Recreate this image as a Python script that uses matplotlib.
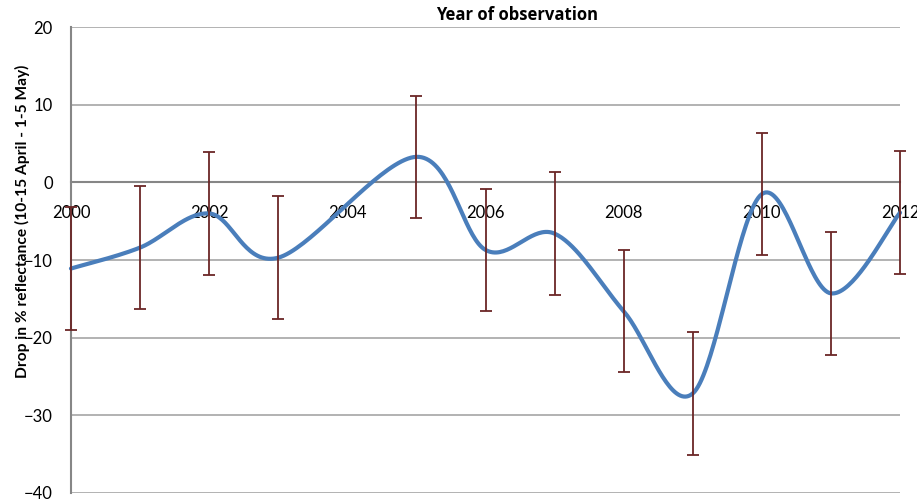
import numpy as np
import matplotlib
matplotlib.use("Agg")
import matplotlib.pyplot as plt

# yearly drop in reflectance (no observation for 2004)
years = [2000, 2001, 2002, 2003, 2005, 2006, 2007, 2008, 2009, 2010, 2011, 2012]
drop = [-11.1, -8.4, -4.0, -9.7, 3.3, -8.7, -6.6, -16.6, -27.2, -1.5, -14.3, -3.9]
err = [7.9, 7.9, 7.9, 7.9, 7.9, 7.9, 7.9, 7.9, 7.9, 7.9, 7.9, 7.9]

xticks = [2000, 2002, 2004, 2006, 2008, 2010, 2012]
yticks = [-40, -30, -20, -10, 0, 10, 20]


def smooth(xs, ys, n=40, t=1/6):
    # spreadsheet-style smoothed line: cubic bezier through each point pair
    x = np.asarray(xs, float)
    y = np.asarray(ys, float)
    px, py = [], []
    for i in range(len(x) - 1):
        a = max(i - 1, 0)
        b = min(i + 2, len(x) - 1)
        c1x = x[i] + (x[i + 1] - x[a]) * t
        c1y = y[i] + (y[i + 1] - y[a]) * t
        c2x = x[i + 1] - (x[b] - x[i]) * t
        c2y = y[i + 1] - (y[b] - y[i]) * t
        s = np.linspace(0, 1, n)
        px.append((1-s)**3*x[i] + 3*(1-s)**2*s*c1x + 3*(1-s)*s**2*c2x + s**3*x[i+1])
        py.append((1-s)**3*y[i] + 3*(1-s)**2*s*c1y + 3*(1-s)*s**2*c2y + s**3*y[i+1])
    return np.concatenate(px), np.concatenate(py)


plt.rcParams['font.family'] = ['Lato', 'DejaVu Sans']

fig = plt.figure(figsize=(9.17, 5), dpi=100)
ax = fig.add_axes([0.0774, 0.0146, 0.9041, 0.9308])

ax.set_xlim(2000, 2012)
ax.set_ylim(-40, 20)

for v in yticks:
    if v != 0:
        ax.axhline(v, color="#a6a6a6", lw=1.2, zorder=0)

sx, sy = smooth(years, drop)
ax.plot(sx, sy, color="#4a7ebb", lw=3, solid_capstyle="round", zorder=3, clip_on=False)
ax.errorbar(years, drop, yerr=err, fmt="none", ecolor="#6b2626", elinewidth=1.3,
            capsize=4, capthick=1.3, zorder=4, clip_on=False)

for s in ["top", "right"]:
    ax.spines[s].set_visible(False)
ax.spines["bottom"].set_position(("data", 0))
ax.spines["bottom"].set_color("#868686")
ax.spines["bottom"].set_linewidth(1.5)
ax.spines["left"].set_color("#868686")
ax.spines["left"].set_linewidth(1.5)

ax.set_xticks(xticks)
ax.set_yticks(yticks)
ax.tick_params(axis="both", length=0, labelsize=12)
ax.tick_params(axis="y", pad=13)
ax.tick_params(axis="x", pad=16)

ax.set_xlabel("Year of observation", fontsize=12, fontweight="bold",
              family=["Open Sans", "DejaVu Sans"])
ax.xaxis.set_label_coords(0.538, 1.026)
ax.xaxis.label.set_va("center")
ax.set_ylabel("Drop in % reflectance (10-15 April - 1-5 May)", fontsize=11.2,
              fontweight="bold")
ax.yaxis.set_label_coords(-0.058, 0.583)
ax.yaxis.label.set_va("center")

fig.savefig("out.png", dpi=100)
